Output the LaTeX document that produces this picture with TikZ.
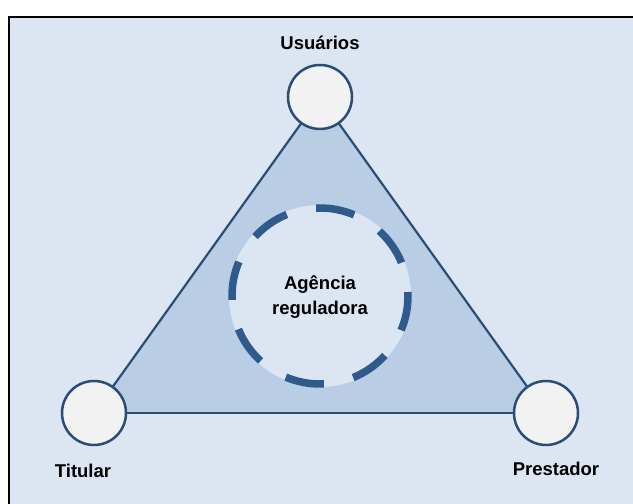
\documentclass[tikz,border=0pt]{standalone}
\usepackage{fontspec}
\setmainfont{Liberation Sans}
\definecolor{bgblue}{HTML}{DCE6F2}
\definecolor{trifill}{HTML}{B9CDE5}
\definecolor{edgeblue}{HTML}{2A4D78}
\definecolor{dashblue}{HTML}{2E5A8C}
\definecolor{nodefill}{HTML}{F2F2F2}
\begin{document}
\begin{tikzpicture}[x=1pt,y=1pt,
  actor/.style={circle,draw=edgeblue,line width=2.5pt,fill=nodefill,minimum size=64pt,inner sep=0pt},
  lbl/.style={font=\fontsize{18.5}{22}\selectfont\bfseries,text=black,inner sep=0pt},
  side/.style={draw=edgeblue,line width=2.2pt}]
\useasboundingbox (0,0) rectangle (633,504);
\fill[white] (0,0) rectangle (633,504);
\fill[bgblue] (9,0) rectangle (633,487);
\draw[black,line width=1.5pt] (9,0) -- (9,487) -- (633,487);
% vertices
\coordinate (tU) at (320,407);
\coordinate (tT) at (94,91);
\coordinate (tP) at (546,91);
\fill[trifill] (tU) -- (tT) -- (tP) -- cycle;
\draw[side] (tU) -- (tT);
\draw[side] (tU) -- (tP);
\draw[side] (tT) -- (tP);
% regulatory agency
\node[circle,fill=bgblue,minimum size=182pt,inner sep=0pt] (ag) at (320,208) {};
\draw[dashblue,line width=7.5pt,dash pattern=on 39pt off 30.1pt,dash phase=35pt] (ag.center) circle[radius=88pt];
\node[lbl,align=center,font=\fontsize{18.5}{25}\selectfont\bfseries] (agt) at (320,207) {Agência\\reguladora};
% actors
\node[actor] (U) at (tU) {};
\node[actor] (T) at (tT) {};
\node[actor] (P) at (tP) {};
\node[lbl] (Ul) at (320,461) {Usuários};
\node[lbl] (Tl) at (83,33) {Titular};
\node[lbl] (Pl) at (556,35) {Prestador};
\end{tikzpicture}
\end{document}
